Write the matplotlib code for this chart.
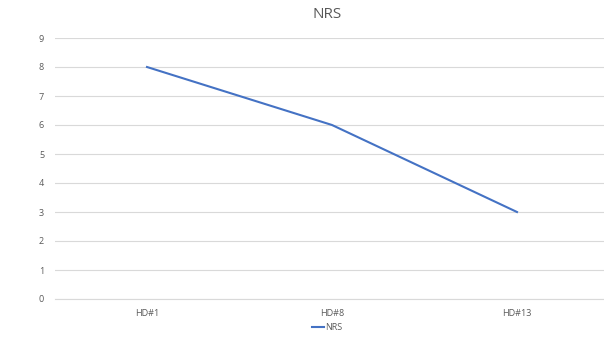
import matplotlib
matplotlib.use("Agg")
import matplotlib.pyplot as plt

categories = ["HD#1", "HD#8", "HD#13"]
nrs = [8, 6, 3]

plt.rcParams['font.family'] = ['Open Sans', 'DejaVu Sans']

fig = plt.figure(figsize=(6.04, 3.43), dpi=100)
ax = fig.add_axes([54.5 / 604, 1 - 299 / 343, 555 / 604, 261 / 343])

x = list(range(len(categories)))
line, = ax.plot(x, nrs, color='#4472C4', linewidth=1.5, label='NRS')

ax.set_xlim(-0.5, len(categories) - 0.5)
ax.set_ylim(0, 9)
ax.set_yticks(range(0, 10))
ax.set_xticks(x)
ax.set_xticklabels(categories)

ax.grid(axis='y', color='#D9D9D9', linewidth=0.8)
ax.set_axisbelow(True)
for s in ['top', 'right', 'left']:
    ax.spines[s].set_visible(False)
ax.spines['bottom'].set_color('#D9D9D9')
ax.tick_params(axis='both', length=0, labelsize=6.5, labelcolor='#595959')
ax.tick_params(axis='x', pad=7)
ax.tick_params(axis='y', pad=7.5)

fig.text(327 / 604, 1 - 15 / 343, "NRS", ha='center', va='center',
         fontsize=11, color='#595959')

fig.legend(handles=[line], loc='center', bbox_to_anchor=(327 / 604, 1 - 328 / 343),
           frameon=False, fontsize=6.5, labelcolor='#595959', handlelength=1.3,
           handletextpad=0.1)

fig.savefig("out.png", dpi=100)
